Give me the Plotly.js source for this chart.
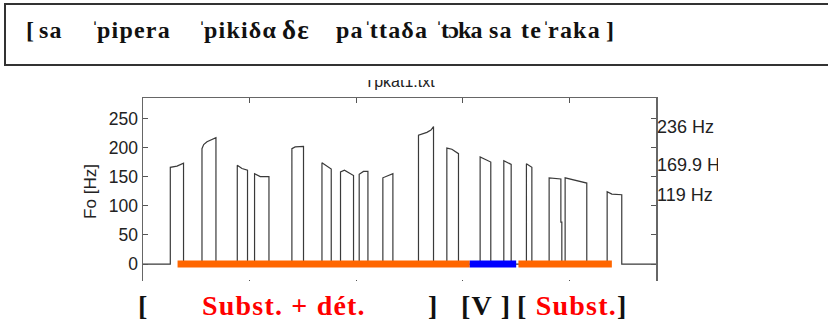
<!DOCTYPE html>
<html>
<head>
<meta charset="utf-8">
<script src="https://cdn.plot.ly/plotly-3.0.1.min.js"></script>
<style>
  html, body { margin: 0; padding: 0; background: #fff; }
  #chart { width: 828px; height: 320px; }
</style>
</head>
<body>
<div id="chart"></div>
<script>
// ---- Data ----
// F0 track in seconds / Hz (0 = unvoiced)
const time = [
  0, 0.256, 0.256, 0.319, 0.380, 0.380,
  0.553, 0.553, 0.569, 0.600, 0.684, 0.684,
  0.884, 0.884, 0.928, 0.980, 0.980,
  1.046, 1.046, 1.099, 1.181, 1.181,
  1.396, 1.396, 1.427, 1.505, 1.505,
  1.678, 1.678, 1.740, 1.765, 1.765,
  1.852, 1.852, 1.889, 1.974, 1.974,
  2.027, 2.027, 2.067, 2.109, 2.109,
  2.249, 2.249, 2.343, 2.343,
  2.583, 2.583, 2.662, 2.700, 2.724, 2.724,
  2.849, 2.849, 2.896, 2.958, 2.958,
  3.161, 3.161, 3.261, 3.261,
  3.383, 3.383, 3.452, 3.452,
  3.595, 3.595, 3.646, 3.646,
  3.808, 3.808, 3.918, 3.918, 3.927, 3.927,
  3.958, 3.958, 4.161, 4.161,
  4.352, 4.352, 4.396, 4.489, 4.489,
  4.81
];
const f0 = [
  0, 0, 166, 168, 173, 0,
  0, 198, 205, 210, 217, 0,
  0, 169.5, 164, 161, 0,
  0, 155, 150, 150, 0,
  0, 198, 201, 202, 0,
  0, 174, 166, 163, 0,
  0, 158, 161, 152, 0,
  0, 154, 159, 159, 0,
  0, 148, 155, 0,
  0, 221, 226, 230, 236, 0,
  0, 199, 197, 189.5, 0,
  0, 184, 175, 0,
  0, 177.5, 171, 0,
  0, 172, 166, 0,
  0, 148, 146, 72, 72, 0,
  0, 148, 139, 0,
  0, 124, 120, 119, 0,
  0
];
// Segmentation bars below the contour (seconds)
const segLabels = ['Subst. + dét.', 'V', 'Subst.'];
const segStart  = [0.324, 3.064, 3.520];
const segEnd    = [3.064, 3.499, 4.396];
// Axis ticks
const xTicks = [1, 2, 3, 4];
const yTicks = [0, 50, 100, 150, 200, 250];
// Right-side statistics labels (max, mean, min)
const statVals = [236, 169.9, 119];
const statText = ['236 Hz', '169.9 Hz', '119 Hz'];
// Header transcription (words) and bottom labels
const ipaWords = ['[', 'sa', 'ˈpipera', 'ˈpikiδα', 'δε', 'paˈttaδa', 'ˈtɔka', 'sa', 'teˈraka', ']'];
const bottomLabels = ['[', 'Subst. + dét.', ']', '[V ]', '[ Subst.]'];
const titleText = 'Tpkat1.txt';
const yTitle = 'Fo [Hz]';

// ---- Styles / layout helpers ----
const W = 828, H = 320;
const M = {l: 143, r: 172, t: 98, b: 35};
const PW = W - M.l - M.r, PH = H - M.t - M.b;
const px = x => (x - M.l) / PW;
const py = y => (H - M.b - y) / PH;
const segColor = {'Subst. + dét.': '#ff6600', 'V': '#0000ff', 'Subst.': '#ff6600'};
const SANS = 'Liberation Sans, Arial, sans-serif';
const SERIF = 'Liberation Serif, DejaVu Serif, Times New Roman, serif';
const ipaLeft    = [24, 37, 89, 196, 280, 334, 433, 487, 519, 604];
const ipaSpacing = [1.2, 1.2, 1.2, 1.2, 1.2, 1.2, -0.8, 1.2, 1.2, 1.2];
const bottomCenter = [143.5, 283.5, 433, 486, 572];
// tighter stress mark rendering, slightly widened lettering (the original is stretched)
const fmtIPA = w => w.replace(/ˈ/g, "<span style='letter-spacing:-2px'>ˈ</span>");
const spaced = (s, ls) => "<span style='letter-spacing:" + ls + "px'>" + s + '</span>';

const traces = [{
  x: time, y: f0, type: 'scatter', mode: 'lines',
  line: {color: '#3a3a3a', width: 1.2}, hoverinfo: 'skip', showlegend: false
}];
segLabels.forEach((lab, i) => {
  traces.push({
    x: [segStart[i], segEnd[i]], y: [0, 0], type: 'scatter', mode: 'lines',
    line: {color: segColor[lab], width: 7}, hoverinfo: 'skip', showlegend: false
  });
});
// invisible trace on y2 to activate right axis
traces.push({x: [0], y: [0], yaxis: 'y2', mode: 'markers', marker: {opacity: 0}, hoverinfo: 'skip', showlegend: false});

const annotations = [];
ipaWords.forEach((w, i) => {
  annotations.push({
    text: '<b>' + spaced(fmtIPA(w), ipaSpacing[i]) + '</b>', xref: 'paper', yref: 'paper',
    x: px(ipaLeft[i]), y: py(30), xanchor: 'left', yanchor: 'middle', showarrow: false,
    font: {family: SERIF, size: (w === 'δε' ? 27 : 24), color: '#111'}
  });
});
const red = s => '<span style="color:#ff0000">' + s + '</span>';
const bottomHtml = [
  bottomLabels[0],
  red(bottomLabels[1]),
  bottomLabels[2],
  bottomLabels[3],
  '[ ' + red('Subst.') + ']'
];
bottomHtml.forEach((t, i) => {
  annotations.push({
    text: '<b>' + spaced(t, 1.2) + '</b>', xref: 'paper', yref: 'paper',
    x: px(bottomCenter[i]), y: py(305), xanchor: 'center', yanchor: 'middle', showarrow: false,
    font: {family: SERIF, size: 28, color: '#111'}
  });
});

const layout = {
  width: W, height: H,
  margin: M,
  paper_bgcolor: '#fff', plot_bgcolor: '#fff',
  showlegend: false,
  title: {
    text: titleText, font: {family: SANS, size: 16, color: '#222'},
    x: 0.5, xref: 'paper', xanchor: 'center', y: 1, yref: 'paper', yanchor: 'bottom', pad: {b: 11}
  },
  xaxis: {
    range: [0, 4.81], tickvals: xTicks, showticklabels: false,
    ticks: 'inside', ticklen: 5, tickwidth: 1, tickcolor: '#555',
    showline: true, linecolor: '#666', linewidth: 1.5, mirror: 'ticks',
    showgrid: false, zeroline: false, fixedrange: true
  },
  yaxis: {
    range: [-36, 285], tickvals: yTicks,
    ticks: 'inside', ticklen: 5, tickwidth: 1, tickcolor: '#555',
    showline: true, linecolor: '#666', linewidth: 1.5, mirror: 'ticks',
    showgrid: false, zeroline: false, fixedrange: true,
    tickfont: {family: SANS, size: 17.5, color: '#222'},
    title: {text: yTitle, font: {family: SANS, size: 17, color: '#222'}, standoff: 8},
    automargin: false
  },
  yaxis2: {
    range: [-36, 285], overlaying: 'y', side: 'right',
    tickvals: statVals, ticktext: statText, ticks: '', showline: false,
    showgrid: false, zeroline: false, fixedrange: true,
    tickfont: {family: SANS, size: 18, color: '#222'}, automargin: false
  },
  shapes: [
    // header box
    {type: 'rect', xref: 'paper', yref: 'paper', x0: px(5), x1: px(845), y0: py(65), y1: py(4),
     line: {color: '#333', width: 2}, fillcolor: 'rgba(0,0,0,0)', layer: 'above'},
    // white cover below the plot (crop of the original figure)
    {type: 'rect', xref: 'paper', yref: 'paper', x0: px(-10), x1: px(840), y0: py(330), y1: py(281),
     line: {width: 0}, fillcolor: '#fff', layer: 'above'},
    // white cover at right edge (label crop)
    {type: 'rect', xref: 'paper', yref: 'paper', x0: px(718), x1: px(840), y0: py(280), y1: py(100),
     line: {width: 0}, fillcolor: '#fff', layer: 'above'}
  ],
  annotations: annotations
};

function clipTitle() {
  // The original figure shows only the lower part of the title: clip its top
  const gd = document.getElementById('chart');
  const t = gd.querySelector('.gtitle');
  if (!t) return;
  t.style.clipPath = 'inset(7px 0px 0px 0px)';
}

const p = Plotly.newPlot('chart', traces, layout, {staticPlot: true, displayModeBar: false});
clipTitle();
if (p && p.then) p.then(clipTitle);
</script>
</body>
</html>
